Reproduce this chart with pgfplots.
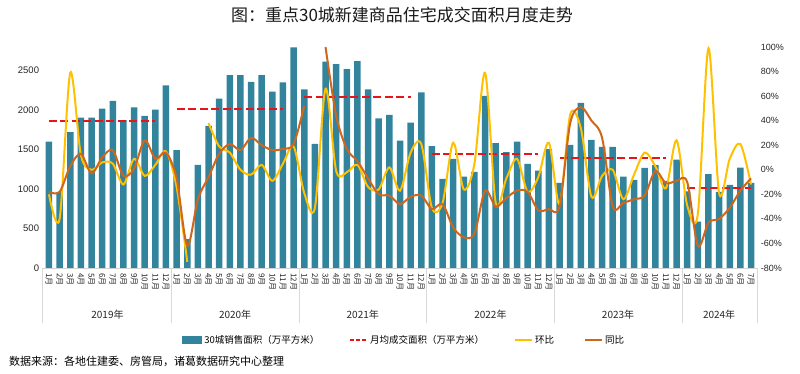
\documentclass[border=0pt]{standalone}
\usepackage{pgfplots}
\usepackage{pgfplotstable}
\pgfplotsset{compat=1.18}
\usepackage{fontspec}
\setmainfont{Liberation Sans}
\newfontfamily\cjk{Noto Sans CJK SC}
\definecolor{barcol}{HTML}{31849B}
\definecolor{yel}{HTML}{FFC000}
\definecolor{ora}{HTML}{D0651C}
\definecolor{dred}{HTML}{E8141B}

\pgfplotstableread{
x area mom yoy
0 1602 -20 -18
1 960 -40 -18
2 1720 79 3
3 1906 12 13
4 1906 0 -3
5 2019 6 10
6 2116 5 16
7 1872 -12 -5
8 2036 9 1
9 1927 -5 24
10 2007 4 9
11 2315 15 14
12 1492 -14 -7
13 367 -75 -62
14 1307 nan -24
15 1800 38 -6
16 2146 19 13
17 2445 14 21
18 2445 0 16
19 2357 -4 26
20 2445 4 20
21 2234 -9 16
22 2352 5 17
23 2795 19 21
24 2264 -19 52
25 1573 -31 nan
26 2614 66 100
27 2584 -1 44
28 2521 -2 17
29 2622 4 7
30 2264 -14 -7
31 1897 -16 -20
32 1939 2 -21
33 1615 -17 -28
34 1842 14 -22
35 2226 21 -21
36 1543 -31 -32
37 1130 -27 -28
38 1383 22 -47
39 1159 -16 -55
40 1218 5 -52
41 2180 79 -17
42 1581 -27 -30
43 1467 -7 -23
44 1602 9 -17
45 1320 -18 -18
46 1235 -6 -33
47 1505 22 -32
48 1079 -28 -30
49 1560 45 38
50 2091 34 51
51 1623 -22 40
52 1535 -5 26
53 1535 0 -30
54 1159 -24 -27
55 1117 -4 -24
56 1269 14 -21
57 1303 3 -1
58 1105 -15 -11
59 1374 24 -9
60 970 -29 -10
61 586 -36 -62
62 1189 99 -43
63 966 -19 -40
64 1054 9 -31
65 1273 21 -17
66 1079 -12 -7
}\data

\begin{document}
\begin{tikzpicture}[x=1pt,y=1pt]
\path[use as bounding box] (0,0) rectangle (800,374);
\node[font=\cjk\fontsize{17}{17}\selectfont, text=black!90] at (402,359) {图：重点30城新建商品住宅成交面积月度走势};
\node[anchor=west, font=\cjk\fontsize{11}{11}\selectfont, inner sep=0pt] at (9,13) {数据来源：各地住建委、房管局，诸葛数据研究中心整理};

\begin{axis}[
  at={(42.6pt,106pt)}, anchor=south west,
  width=714.8pt, height=221pt, scale only axis,
  xmin=-0.6, xmax=66.6, ymin=0, ymax=2800,
  axis x line*=bottom, axis y line*=left,
  x axis line style={draw=gray!35,-}, y axis line style={draw=none},
  major tick length=0pt,
  xtick={0,...,66},
  xticklabels={1月,2月,3月,4月,5月,6月,7月,8月,9月,10月,11月,12月,
               1月,2月,3月,4月,5月,6月,7月,8月,9月,10月,11月,12月,
               1月,2月,3月,4月,5月,6月,7月,8月,9月,10月,11月,12月,
               1月,2月,3月,4月,5月,6月,7月,8月,9月,10月,11月,12月,
               1月,2月,3月,4月,5月,6月,7月,8月,9月,10月,11月,12月,
               1月,2月,3月,4月,5月,6月,7月},
  xticklabel style={rotate=-90, anchor=west, font=\cjk\fontsize{8}{8}\selectfont, inner xsep=5pt, inner ysep=1pt, text=black!85},
  ytick={0,500,...,2500},
  yticklabel style={font=\fontsize{9.5}{10}\selectfont, text=black!85},
  /pgf/number format/assume math mode=true,
  /pgf/number format/set thousands separator={},
  clip=false,
]
\addplot[ybar, bar width=6.5pt, fill=barcol, draw=none] table[x=x, y=area] {\data};
\addplot[dred, line width=2pt, dash pattern=on 8pt off 3.5pt] coordinates {(0,1866) (10,1866)};
\addplot[dred, line width=2pt, dash pattern=on 8pt off 3.5pt] coordinates {(12,2016) (22,2016)};
\addplot[dred, line width=2pt, dash pattern=on 8pt off 3.5pt] coordinates {(24,2163) (34,2163)};
\addplot[dred, line width=2pt, dash pattern=on 8pt off 3.5pt] coordinates {(36,1444) (46,1444)};
\addplot[dred, line width=2pt, dash pattern=on 8pt off 3.5pt] coordinates {(48,1396) (58,1396)};
\addplot[dred, line width=2pt, dash pattern=on 8pt off 3.5pt] coordinates {(60,1017) (66,1017)};
\draw[gray!30] (axis cs:-0.6,0) -- ++(0pt,-55pt);
\draw[gray!30] (axis cs:11.5,0) -- ++(0pt,-55pt);
\draw[gray!30] (axis cs:23.5,0) -- ++(0pt,-55pt);
\draw[gray!30] (axis cs:35.5,0) -- ++(0pt,-55pt);
\draw[gray!30] (axis cs:47.5,0) -- ++(0pt,-55pt);
\draw[gray!30] (axis cs:59.5,0) -- ++(0pt,-55pt);
\draw[gray!30] (axis cs:66.6,0) -- ++(0pt,-55pt);
\node[font=\cjk\fontsize{10}{10}\selectfont, text=black!85] at (axis cs:5.5,0) [yshift=-47pt] {2019年};
\node[font=\cjk\fontsize{10}{10}\selectfont, text=black!85] at (axis cs:17.5,0) [yshift=-47pt] {2020年};
\node[font=\cjk\fontsize{10}{10}\selectfont, text=black!85] at (axis cs:29.5,0) [yshift=-47pt] {2021年};
\node[font=\cjk\fontsize{10}{10}\selectfont, text=black!85] at (axis cs:41.5,0) [yshift=-47pt] {2022年};
\node[font=\cjk\fontsize{10}{10}\selectfont, text=black!85] at (axis cs:53.5,0) [yshift=-47pt] {2023年};
\node[font=\cjk\fontsize{10}{10}\selectfont, text=black!85] at (axis cs:63,0) [yshift=-47pt] {2024年};
\end{axis}

\begin{axis}[
  at={(42.6pt,106pt)}, anchor=south west,
  width=714.8pt, height=221pt, scale only axis,
  xmin=-0.6, xmax=66.6, ymin=-80, ymax=100,
  axis x line=none, axis y line*=right,
  y axis line style={draw=none},
  major tick length=0pt,
  ytick={-80,-60,...,100},
  yticklabel={\pgfmathprintnumber{\tick}\%},
  yticklabel style={font=\fontsize{9}{10}\selectfont, text=black!85},
  /pgf/number format/assume math mode=true,
  unbounded coords=jump,
  legend style={at={(0.506,-0.326)}, anchor=center, draw=none, fill=none,
    font=\cjk\fontsize{9.5}{10}\selectfont,
    /tikz/every even column/.append style={column sep=28pt}},
  legend columns=4, legend cell align=left,
]
\addlegendimage{draw=none, fill=barcol, legend image code/.code={\fill[barcol] (0pt,-3.5pt) rectangle (20pt,4pt);}}
\addlegendentry{30城销售面积（万平方米）}
\addlegendimage{dred, line width=1.5pt, dash pattern=on 4pt off 2pt}
\addlegendentry{月均成交面积（万平方米）}
\addplot[yel, line width=2pt, smooth, tension=0.5] table[x=x, y=mom] {\data};
\addlegendentry{环比}
\addplot[ora, line width=2pt, smooth, tension=0.5] table[x=x, y=yoy] {\data};
\addlegendentry{同比}
\end{axis}
\end{tikzpicture}
\end{document}
